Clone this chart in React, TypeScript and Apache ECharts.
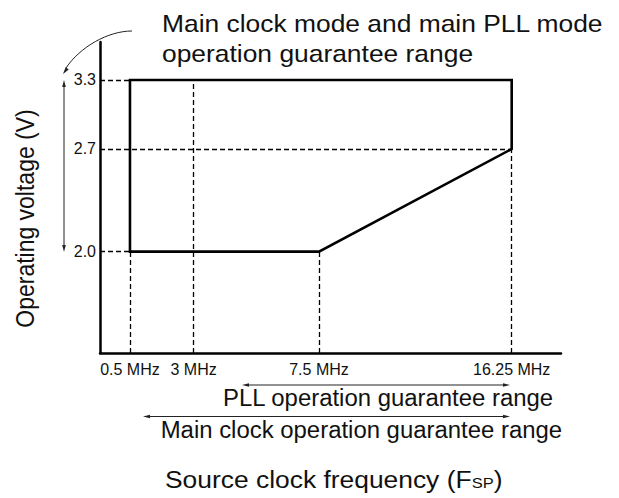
import React, { useEffect, useRef } from "react";
import * as echarts from "echarts";

// Frequencies marked on the (not-to-scale) frequency axis
const freqValues = [0.5, 3, 7.5, 16.25];
const freqLabels = ["0.5 MHz", "3 MHz", "7.5 MHz", "16.25 MHz"];
// schematic position of each frequency along the axis (axis runs 0–100, not to scale)
const freqPos = [6.5, 20.3, 47.5, 89.3];

// Voltages marked on the (not-to-scale) voltage axis
const voltValues = [2.0, 2.7, 3.3];
const voltLabels = ["2.0", "2.7", "3.3"];
// schematic position of each voltage along the axis (axis runs 0–100, not to scale)
const voltPos = [32.6, 65.6, 87.8];

// Guaranteed operating region boundary (frequency MHz, voltage V)
const boundaryFreq = [0.5, 16.25, 16.25, 7.5, 0.5, 0.5];
const boundaryVolt = [3.3, 3.3, 2.7, 2.0, 2.0, 3.3];

// Dashed guide lines
const hGuideVolt = [3.3, 2.7, 2.0];
const hGuideToFreq = [0.5, 16.25, 0.5];
const vGuideFreq = [0.5, 3, 7.5, 16.25];
const vGuideToVolt = [2.0, 3.3, 2.0, 2.7];

const FONT = "Liberation Sans";
const INK = "#111";

const fx = (f: number) => freqPos[freqValues.indexOf(f)];
const vy = (v: number) => voltPos[voltValues.indexOf(v)];
const labelFor = (val: number, pos: number[], labels: string[]) => {
  for (let i = 0; i < pos.length; i++) if (Math.abs(pos[i] - val) < 1e-6) return labels[i];
  return "";
};

export default function App() {
  const ref = useRef<HTMLDivElement>(null);
  useEffect(() => {
    if (!ref.current) return;
    const chart = echarts.init(ref.current, undefined, { renderer: "svg" });

    const boundary = boundaryFreq.map((f, i) => [fx(f), vy(boundaryVolt[i])]);
    const guides: any[] = [];
    hGuideVolt.forEach((v, i) => {
      guides.push([{ coord: [0, vy(v)] }, { coord: [fx(hGuideToFreq[i]), vy(v)] }]);
    });
    vGuideFreq.forEach((f, i) => {
      guides.push([{ coord: [fx(f), 0] }, { coord: [fx(f), vy(vGuideToVolt[i])] }]);
    });

    const arrowStroke = { stroke: "#222", lineWidth: 1, fill: "none" };
    const headFill = { fill: "#222" };

    const option: any = {
      animation: false,
      backgroundColor: "#fff",
      grid: { left: 100, right: 58, top: 42, bottom: 145, containLabel: false, outerBoundsMode: "none" },
      xAxis: {
        type: "value",
        min: 0,
        max: 100,
        axisLine: { show: true, lineStyle: { color: "#000", width: 2.5 } },
        axisTick: { show: false },
        splitLine: { show: false },
        axisLabel: {
          customValues: freqPos,
          formatter: (v: number) => labelFor(v, freqPos, freqLabels),
          fontFamily: FONT,
          fontSize: 16,
          color: INK,
          margin: 8,
        },
      },
      yAxis: {
        type: "value",
        min: 0,
        max: 100,
        axisLine: { show: true, lineStyle: { color: "#000", width: 2.5 } },
        axisTick: { show: false },
        splitLine: { show: false },
        axisLabel: {
          customValues: voltPos,
          formatter: (v: number) => labelFor(v, voltPos, voltLabels),
          fontFamily: FONT,
          fontSize: 16,
          color: INK,
          margin: 4,
        },
      },
      series: [
        {
          type: "line",
          name: "guides",
          data: [],
          silent: true,
          markLine: {
            silent: true,
            symbol: ["none", "none"],
            label: { show: false },
            lineStyle: { type: [5, 3], color: "#000", width: 1.3 },
            emphasis: { disabled: true },
            data: guides,
          },
        },
        {
          type: "line",
          name: "Main clock mode and main PLL mode operation guarantee range",
          data: boundary,
          symbol: "none",
          silent: true,
          lineStyle: { color: "#000", width: 2.6, join: "miter", cap: "square" },
        },
      ],
      graphic: [
        {
          type: "text", x: 162, y: 23.5, scaleX: 1.1,
          style: { text: "Main clock mode and main PLL mode", font: `24px "${FONT}"`, fill: INK, align: "left", verticalAlign: "middle" },
        },
        {
          type: "text", x: 162, y: 53.5, scaleX: 1.1,
          style: { text: "operation guarantee range", font: `24px "${FONT}"`, fill: INK, align: "left", verticalAlign: "middle" },
        },
        {
          type: "text", x: 25, y: 218.5, rotation: Math.PI / 2, scaleY: 1.1,
          style: { text: "Operating voltage (V)", font: `23px "${FONT}"`, fill: INK, align: "center", verticalAlign: "middle" },
        },
        {
          type: "text", x: 223, y: 397.7, scaleX: 1.04,
          style: { text: "PLL operation guarantee range", font: `23px "${FONT}"`, fill: INK, align: "left", verticalAlign: "middle" },
        },
        {
          type: "text", x: 160.7, y: 430, scaleX: 1.04,
          style: { text: "Main clock operation guarantee range", font: `23px "${FONT}"`, fill: INK, align: "left", verticalAlign: "middle" },
        },
        {
          type: "text", x: 165, y: 479, scaleX: 1.1,
          style: {
            text: "{n|Source clock frequency (F}{s|SP}{n|)}",
            fill: INK, align: "left", verticalAlign: "middle",
            rich: {
              n: { fontFamily: FONT, fontSize: 24, fill: INK },
              s: { fontFamily: FONT, fontSize: 15, fill: INK, verticalAlign: "bottom", padding: [0, 0, 1, 0] },
            },
          },
        },
        // curved pointer from title to the region
        { type: "bezierCurve", shape: { x1: 132, y1: 31, cpx1: 108, cpy1: 31, cpx2: 80, cpy2: 47, x2: 66, y2: 68 }, style: arrowStroke },
        { type: "polygon", shape: { points: [[63, 74], [68.8, 69.6], [65.6, 67.2]] }, style: headFill },
        // vertical voltage range arrow
        { type: "line", shape: { x1: 64, y1: 84, x2: 64, y2: 248 }, style: arrowStroke },
        { type: "polygon", shape: { points: [[64, 80], [62.2, 87], [65.8, 87]] }, style: headFill },
        { type: "polygon", shape: { points: [[64, 252], [62.2, 245], [65.8, 245]] }, style: headFill },
        // PLL range arrow
        { type: "line", shape: { x1: 246, y1: 385, x2: 506, y2: 385 }, style: arrowStroke },
        { type: "polygon", shape: { points: [[242, 385], [249, 383.2], [249, 386.8]] }, style: headFill },
        { type: "polygon", shape: { points: [[510, 385], [503, 383.2], [503, 386.8]] }, style: headFill },
        // Main clock range arrow
        { type: "line", shape: { x1: 147, y1: 416.5, x2: 506, y2: 416.5 }, style: arrowStroke },
        { type: "polygon", shape: { points: [[143, 416.5], [150, 414.7], [150, 418.3]] }, style: headFill },
        { type: "polygon", shape: { points: [[510, 416.5], [503, 414.7], [503, 418.3]] }, style: headFill },
      ],
    };
    chart.setOption(option);
    return () => chart.dispose();
  }, []);

  return (
    <div
      ref={ref}
      style={{ position: "fixed", left: 0, top: 0, width: 619, height: 498, background: "#fff" }}
    />
  );
}
